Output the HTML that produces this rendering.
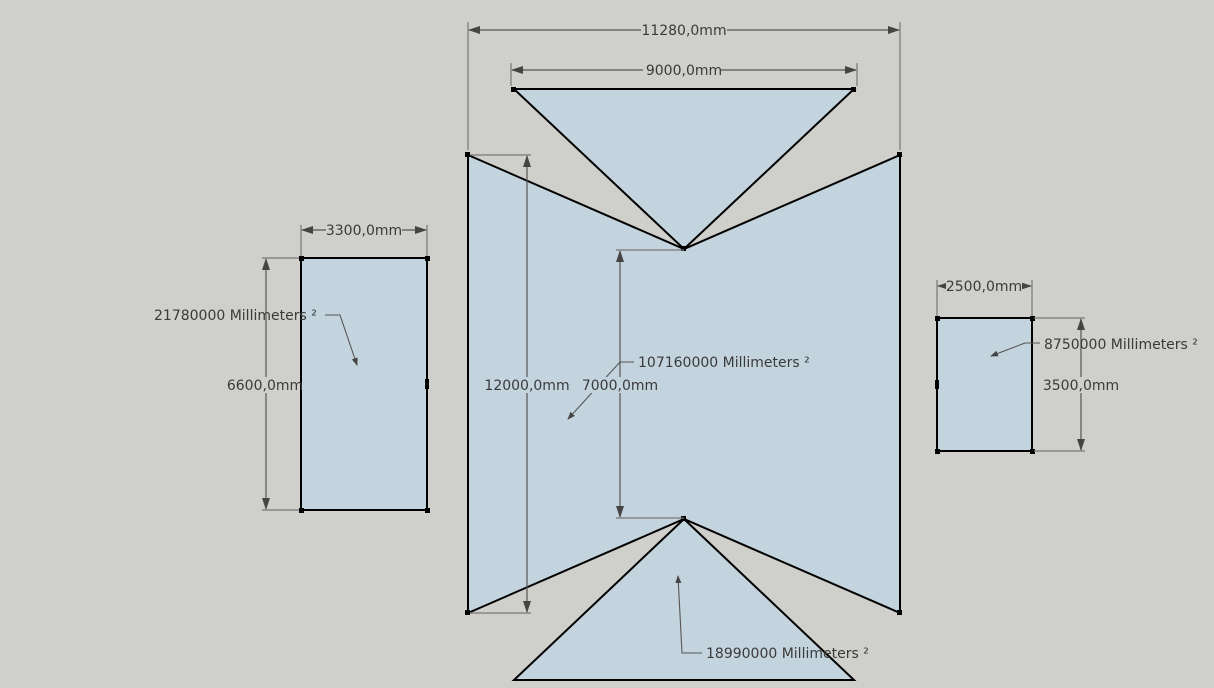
<!DOCTYPE html>
<html><head><meta charset="utf-8"><style>
html,body{margin:0;padding:0;background:#cfcfcb;}
svg{display:block}
text{font-family:"DejaVu Sans","Liberation Sans",sans-serif;font-size:14px;fill:#3a3a3a}
</style></head><body>
<svg width="1214" height="688" viewBox="0 0 1214 688">
<defs><marker id="a" markerWidth="12" markerHeight="8" refX="11" refY="4" orient="auto-start-reverse" markerUnits="userSpaceOnUse"><path d="M0,0 L12,4 L0,8z" fill="#444"/></marker>
<marker id="b" markerWidth="8" markerHeight="8" refX="7" refY="3" orient="auto" markerUnits="userSpaceOnUse"><path d="M0,0 L8,3 L0,6z" fill="#444"/></marker></defs>
<rect width="1214" height="688" fill="#cfcfcb"/>
<g fill="#c4d4de" stroke="#000" stroke-width="2" stroke-linejoin="miter">
<polygon points="468,155 684,249 900,155 900,613 684,519 468,613"/>
<polygon points="514,89 854,89 684,249"/>
<polygon points="684,519 854,680 514,680"/>
<rect x="301" y="258" width="126" height="252"/>
<rect x="937" y="318" width="95" height="133"/>
</g>
<g fill="#000">
<rect x="465" y="152" width="5" height="5"/><rect x="897" y="152" width="5" height="5"/><rect x="465" y="610" width="5" height="5"/><rect x="897" y="610" width="5" height="5"/>
<rect x="511" y="87" width="5" height="5"/><rect x="851" y="87" width="5" height="5"/><rect x="681" y="246" width="5" height="5"/><rect x="681" y="516" width="5" height="5"/>
<rect x="299" y="256" width="5" height="5"/><rect x="425" y="256" width="5" height="5"/><rect x="299" y="508" width="5" height="5"/><rect x="425" y="508" width="5" height="5"/><rect x="425" y="379" width="4" height="10"/>
<rect x="935" y="316" width="5" height="5"/><rect x="1030" y="316" width="5" height="5"/><rect x="935" y="449" width="5" height="5"/><rect x="1030" y="449" width="5" height="5"/><rect x="935" y="380" width="4" height="9"/>
</g>
<g stroke="#777" stroke-width="1.2" fill="none">
<line x1="468" y1="22" x2="468" y2="150"/><line x1="900" y1="22" x2="900" y2="150"/>
<line x1="511" y1="63" x2="511" y2="86"/><line x1="857" y1="63" x2="857" y2="86"/>
<line x1="470" y1="155" x2="531" y2="155"/><line x1="470" y1="613" x2="531" y2="613"/>
<line x1="616" y1="250" x2="684" y2="250"/><line x1="616" y1="518" x2="684" y2="518"/>
<line x1="301" y1="225" x2="301" y2="256"/><line x1="427" y1="225" x2="427" y2="256"/>
<line x1="262" y1="258" x2="299" y2="258"/><line x1="262" y1="510" x2="299" y2="510"/>
<line x1="937" y1="280" x2="937" y2="316"/><line x1="1032" y1="280" x2="1032" y2="316"/>
<line x1="1034" y1="318" x2="1085" y2="318"/><line x1="1034" y1="451" x2="1085" y2="451"/>
</g>
<g stroke="#555" stroke-width="1.2" fill="none" marker-start="url(#a)" marker-end="url(#a)">
<line x1="469" y1="30" x2="899" y2="30"/>
<line x1="512" y1="70" x2="856" y2="70"/>
<line x1="527" y1="156" x2="527" y2="612"/>
<line x1="620" y1="251" x2="620" y2="517"/>
<line x1="302" y1="230" x2="426" y2="230"/>
<line x1="266" y1="259" x2="266" y2="509"/>
<line x1="938" y1="286" x2="1031" y2="286"/>
<line x1="1081" y1="319" x2="1081" y2="450"/>
</g>
<g stroke="#555" stroke-width="1.1" fill="none" marker-end="url(#b)">
<polyline points="325,315 340,315 357,365"/>
<polyline points="634,362 620,362 568,419"/>
<polyline points="1040,343 1025,343 991,356"/>
<polyline points="702,653 682,653 678,576"/>
</g>
<g text-anchor="middle">
<rect x="641" y="22" width="86" height="16" fill="#cfcfcb"/><text x="684" y="35">11280,0mm</text>
<rect x="643" y="62" width="78" height="16" fill="#cfcfcb"/><text x="684" y="75">9000,0mm</text>
<rect x="326" y="222" width="76" height="16" fill="#cfcfcb"/><text x="364" y="235">3300,0mm</text>
<rect x="946" y="278" width="76" height="16" fill="#cfcfcb"/><text x="984" y="291">2500,0mm</text>
<rect x="484" y="377" width="86" height="16" fill="#c4d4de"/><text x="527" y="390">12000,0mm</text>
<rect x="582" y="377" width="76" height="16" fill="#c4d4de"/><text x="620" y="390">7000,0mm</text>
<rect x="228" y="377" width="72" height="16" fill="#cfcfcb"/><text x="265" y="390">6600,0mm</text>
<rect x="1043" y="377" width="76" height="16" fill="#cfcfcb"/><text x="1081" y="390">3500,0mm</text>
</g>
<text x="154" y="320">21780000 Millimeters ²</text>
<text x="638" y="367">107160000 Millimeters ²</text>
<text x="1044" y="349">8750000 Millimeters ²</text>
<text x="706" y="658">18990000 Millimeters ²</text>
</svg>
</body></html>
